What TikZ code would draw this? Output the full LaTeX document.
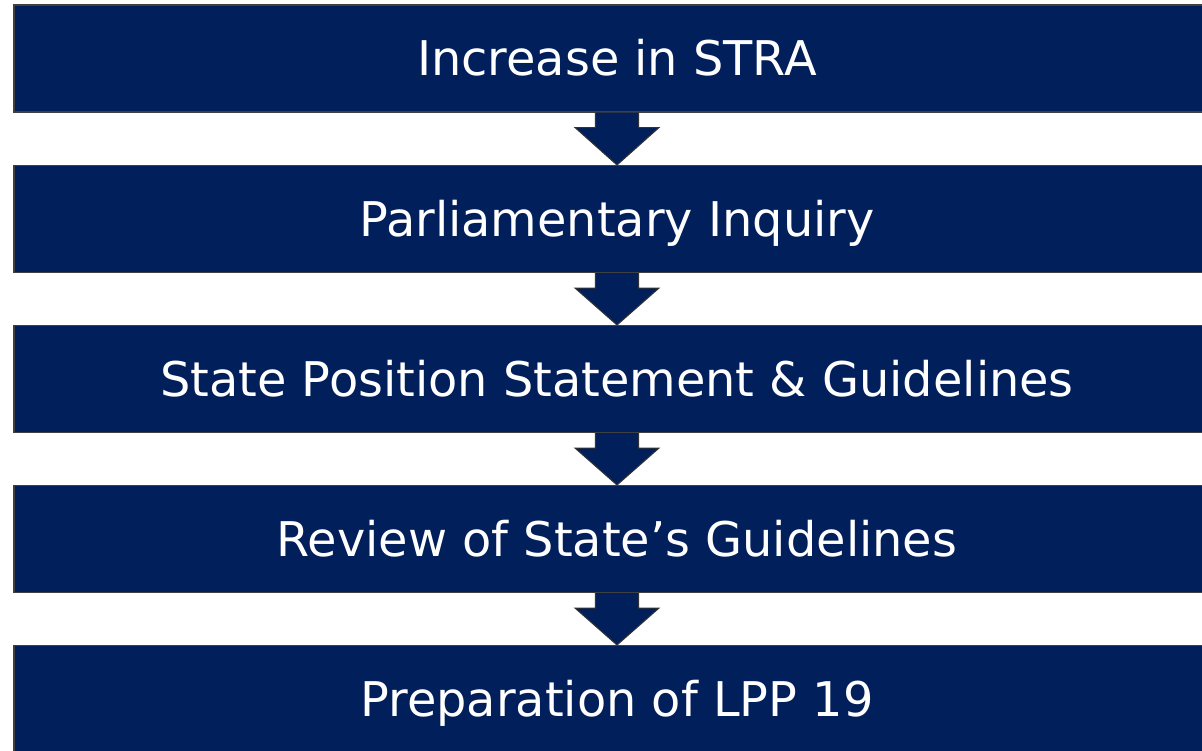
\documentclass[tikz,border=0pt]{standalone}
\usepackage{fontspec}
\setmainfont{DejaVu Sans}
\usetikzlibrary{calc}
\definecolor{navy}{RGB}{0,31,91}

\tikzset{
  stage/.style={draw=black!75, fill=navy, text=white, line width=0.6pt,
    minimum width=24.12cm, minimum height=2.14cm, inner sep=0pt,
    text height=0.69cm, text depth=0pt,
    font=\fontsize{27.2}{32}\selectfont},
  flowarrow/.style={fill=navy, draw=black!80, line width=0.6pt}
}

\begin{document}
\begin{tikzpicture}
  \useasboundingbox (0,0) rectangle (24.04,-15);

  \node [stage] (s1) at (12.34,-1.17)  {Increase in STRA};
  \node [stage] (s2) at (12.34,-4.38)  {Parliamentary Inquiry};
  \node [stage] (s3) at (12.34,-7.58)  {State Position Statement \& Guidelines};
  \node [stage] (s4) at (12.34,-10.78) {Review of State’s Guidelines};
  \node [stage] (s5) at (12.34,-13.98) {Preparation of LPP 19};

  % down arrows between the stages
  \foreach \a/\b in {s1/s2,s2/s3,s3/s4,s4/s5}
    \filldraw [flowarrow] ($(\a.south)+(-0.43,0)$) -- ($(\a.south)+(-0.43,-0.3)$)
      -- ($(\a.south)+(-0.84,-0.3)$) -- (\b.north)
      -- ($(\a.south)+(0.84,-0.3)$) -- ($(\a.south)+(0.43,-0.3)$)
      -- ($(\a.south)+(0.43,0)$);
\end{tikzpicture}
\end{document}
